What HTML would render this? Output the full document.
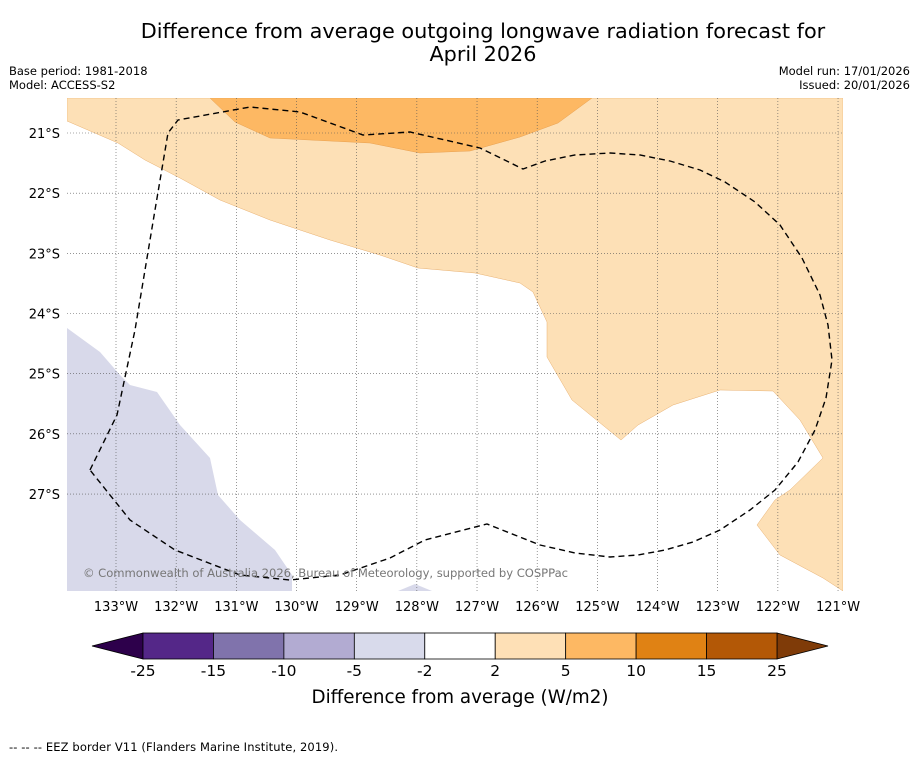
<!DOCTYPE html>
<html><head><meta charset="utf-8"><style>
body{margin:0;background:#fff;font-family:"DejaVu Sans","Liberation Sans",sans-serif;}
svg text{font-family:"DejaVu Sans","Liberation Sans",sans-serif;}
</style></head><body>
<svg width="919" height="758" xmlns="http://www.w3.org/2000/svg">
<rect width="919" height="758" fill="#fff"/>
<text x="483" y="38" font-size="20.8" text-anchor="middle">Difference from average outgoing longwave radiation forecast for</text>
<text x="483" y="61" font-size="20.8" text-anchor="middle">April 2026</text>
<text x="9" y="75" font-size="11.5">Base period: 1981-2018</text>
<text x="9" y="89" font-size="11.5">Model: ACCESS-S2</text>
<text x="910" y="75" font-size="11.5" text-anchor="end">Model run: 17/01/2026</text>
<text x="910" y="89" font-size="11.5" text-anchor="end">Issued: 20/01/2026</text>
<defs><clipPath id="mc"><rect x="67" y="98" width="776" height="493"/></clipPath></defs>
<g clip-path="url(#mc)">
<rect x="67" y="98" width="776" height="493" fill="#fff"/>
<path fill="#fde0b6" stroke="#e8b070" stroke-width="0.5" d="M67,121 L118,143 L145,160 L180,178 L220,200 L270,220 L330,240 L380,255 L418,268 L475,273 L520,283 L533,292 L547,322 L547,357 L572,400 L621,440 L638,425 L673,405 L720,390 L773,391 L800,420 L823,458 L790,490 L775,500 L757,525 L780,555 L823,578 L843,591 L843,98 L67,98 Z"/>
<path fill="#fdb863" stroke="#e8a050" stroke-width="0.5" d="M210,98 L235,122 L270,138 L370,143 L420,153 L470,151 L520,137 L558,123 L592,98 Z"/>
<path fill="#d8d9ea" d="M67,328 L100,352 L120,375 L130,385 L157,392 L180,425 L210,458 L218,495 L240,520 L275,550 L292,575 L292,591 L67,591 Z M398,591 L415,584 L432,591 Z"/>
<g id="grid"></g>
<path fill="none" stroke="#000" stroke-width="1.4" stroke-dasharray="6,4" d="M90,470 L117,415 L135,330 L155,210 L168,133 L178,120 L250,107 L300,112 L363,135 L410,132 L480,148 L523,169 L545,161 L575,155 L610,153 L640,155 L670,161 L700,170 L725,182 L755,202 L780,225 L802,258 L820,295 L828,325 L832,360 L826,398 L815,430 L798,462 L775,490 L750,510 L720,530 L693,542 L665,550 L638,555 L610,557 L575,553 L540,545 L487,524 L425,540 L390,558 L340,575 L290,580 L240,575 L175,550 L130,520 Z"/>
<text x="83" y="577" font-size="11.6" fill="#777" textLength="485">© Commonwealth of Australia 2026, Bureau of Meteorology, supported by COSPPac</text>
</g>
<g id="axes"></g>
<g id="cbar"></g>
<text x="460" y="703" font-size="18.3" text-anchor="middle">Difference from average (W/m2)</text>
<text x="9" y="751" font-size="11.5" textLength="329">--  --  -- EEZ border V11 (Flanders Marine Institute, 2019).</text>
</svg>
<script>
const lonTicks=[133,132,131,130,129,128,127,126,125,124,123,122,121];
const latTicks=[21,22,23,24,25,26,27];
const levels=[-25,-15,-10,-5,-2,2,5,10,15,25];
const colors=["#542788","#8073ac","#b2abd2","#d8daeb","#ffffff","#fee0b6","#fdb863","#e08214","#b35806"];
const extMin="#2d004b", extMax="#7f3b08";
const NS="http://www.w3.org/2000/svg";
function X(lonW){return 116+(133-lonW)*60.17;}
function Y(latS){return 133+(latS-21)*60.17;}
function mk(t,a,p){const e=document.createElementNS(NS,t);for(const k in a)e.setAttribute(k,a[k]);p.appendChild(e);return e;}
const grid=document.getElementById('grid'),axes=document.getElementById('axes'),cb=document.getElementById('cbar');
lonTicks.forEach(l=>{const x=X(l);
 const g=mk('line',{x1:x,y1:98,x2:x,y2:591,stroke:'#555','stroke-width':0.6,'stroke-dasharray':'1,2'},grid);
 
 
 const t=mk('text',{x:x,y:611,'font-size':13,'text-anchor':'middle'},axes);t.textContent=l+'°W';
 
 });
latTicks.forEach(l=>{const y=Y(l);
 const g=mk('line',{x1:67,y1:y,x2:843,y2:y,stroke:'#555','stroke-width':0.6,'stroke-dasharray':'1,2'},grid);
 
 
 const t=mk('text',{x:60,y:y+5,'font-size':13,'text-anchor':'end'},axes);t.textContent=l+'°S';
 
 });
const x0=143,x1=777,n=colors.length,w=(x1-x0)/n,y0=633,h=26;
const lt=mk('polygon',{points:`${x0},${y0} ${x0},${y0+h} 92,${y0+h/2}`,fill:extMin,stroke:'#000','stroke-width':0.8},cb);


const rt=mk('polygon',{points:`${x1},${y0} ${x1},${y0+h} 828,${y0+h/2}`,fill:extMax,stroke:'#000','stroke-width':0.8},cb);


colors.forEach((c,i)=>{const r=mk('rect',{x:x0+i*w,y:y0,width:w,height:h,fill:c,stroke:'#000','stroke-width':0.8},cb);
 
 });
levels.forEach((v,i)=>{const t=mk('text',{x:x0+i*w,y:676,'font-size':15.5,'text-anchor':'middle'},cb);t.textContent=v;
 
 });
</script>
</body></html>
